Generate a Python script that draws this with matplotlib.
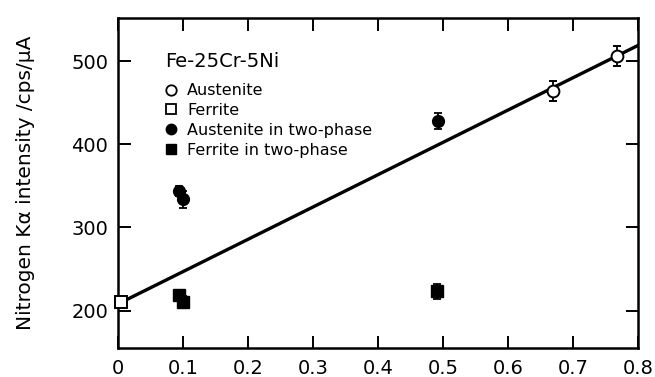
import numpy as np
from matplotlib import pyplot as plt
from matplotlib.lines import Line2D

plt.rcParams['font.family'] = ['DejaVu Sans']

# data
aus_x = [0.669, 0.767]
aus_y = [464, 506]
aus_err = [12, 12]

fer_x = [0.004]
fer_y = [210]
fer_err = [5]

aus2_x = [0.094, 0.100, 0.493]
aus2_y = [344, 334, 428]
aus2_err = [6, 10, 10]

fer2_x = [0.094, 0.100, 0.490]
fer2_y = [219, 210, 223]
fer2_err = [5, 7, 9]

fit_x = [0.0, 0.8]
fit_y = [208, 519]

fig = plt.figure(figsize=(6.55, 3.77), dpi=100)
ax = fig.add_axes([118/655, 29/377, 520/655, 330/377])

ax.plot(fit_x, fit_y, color='black', lw=2.4)

ms = 8.5
kw = dict(ecolor='black', capsize=3, elinewidth=1.3, capthick=1.3, zorder=3, mec='black')
ax.errorbar(aus_x, aus_y, yerr=aus_err, fmt='o', mfc='white', ms=ms, mew=1.4, **kw)
ax.errorbar(fer_x, fer_y, yerr=fer_err, fmt='s', mfc='white', ms=ms, mew=1.4,
            clip_on=False, **kw)
ax.errorbar(aus2_x, aus2_y, yerr=aus2_err, fmt='o', mfc='black', ms=ms, **kw)
ax.errorbar(fer2_x, fer2_y, yerr=fer2_err, fmt='s', mfc='black', ms=ms, **kw)

ax.set_xlim(0, 0.8)
ax.set_ylim(155, 552)
ax.set_xticks(np.arange(0, 0.81, 0.1))
ax.set_xticklabels(['0', '0.1', '0.2', '0.3', '0.4', '0.5', '0.6', '0.7', '0.8'])
ax.set_yticks([200, 300, 400, 500])
ax.tick_params(direction='in', length=9, width=1.4, top=True, right=True,
               labelsize=14)
ax.tick_params(axis='x', pad=8)
ax.tick_params(axis='y', pad=7)
for s in ax.spines.values():
    s.set_linewidth(1.8)

ax.set_ylabel('Nitrogen K\u03b1 intensity /cps/\u03bcA', fontsize=14.5, labelpad=26)

handles = [
    Line2D([], [], ls='none', marker='o', mfc='white', mec='black', ms=7.5, mew=1.3),
    Line2D([], [], ls='none', marker='s', mfc='white', mec='black', ms=7.5, mew=1.3),
    Line2D([], [], ls='none', marker='o', mfc='black', mec='black', ms=7.5),
    Line2D([], [], ls='none', marker='s', mfc='black', mec='black', ms=7.5),
]
labels = ['Austenite', 'Ferrite', 'Austenite in two-phase', 'Ferrite in two-phase']
leg = ax.legend(handles, labels, loc='upper left', bbox_to_anchor=(0.075, 0.922),
                frameon=False, title='Fe-25Cr-5Ni', alignment='left',
                fontsize=11.5, title_fontsize=14, handlelength=0.8,
                handletextpad=0.6, labelspacing=0.3, borderpad=0)
leg._legend_box.sep = 9

fig.savefig('out.png', dpi=100)
